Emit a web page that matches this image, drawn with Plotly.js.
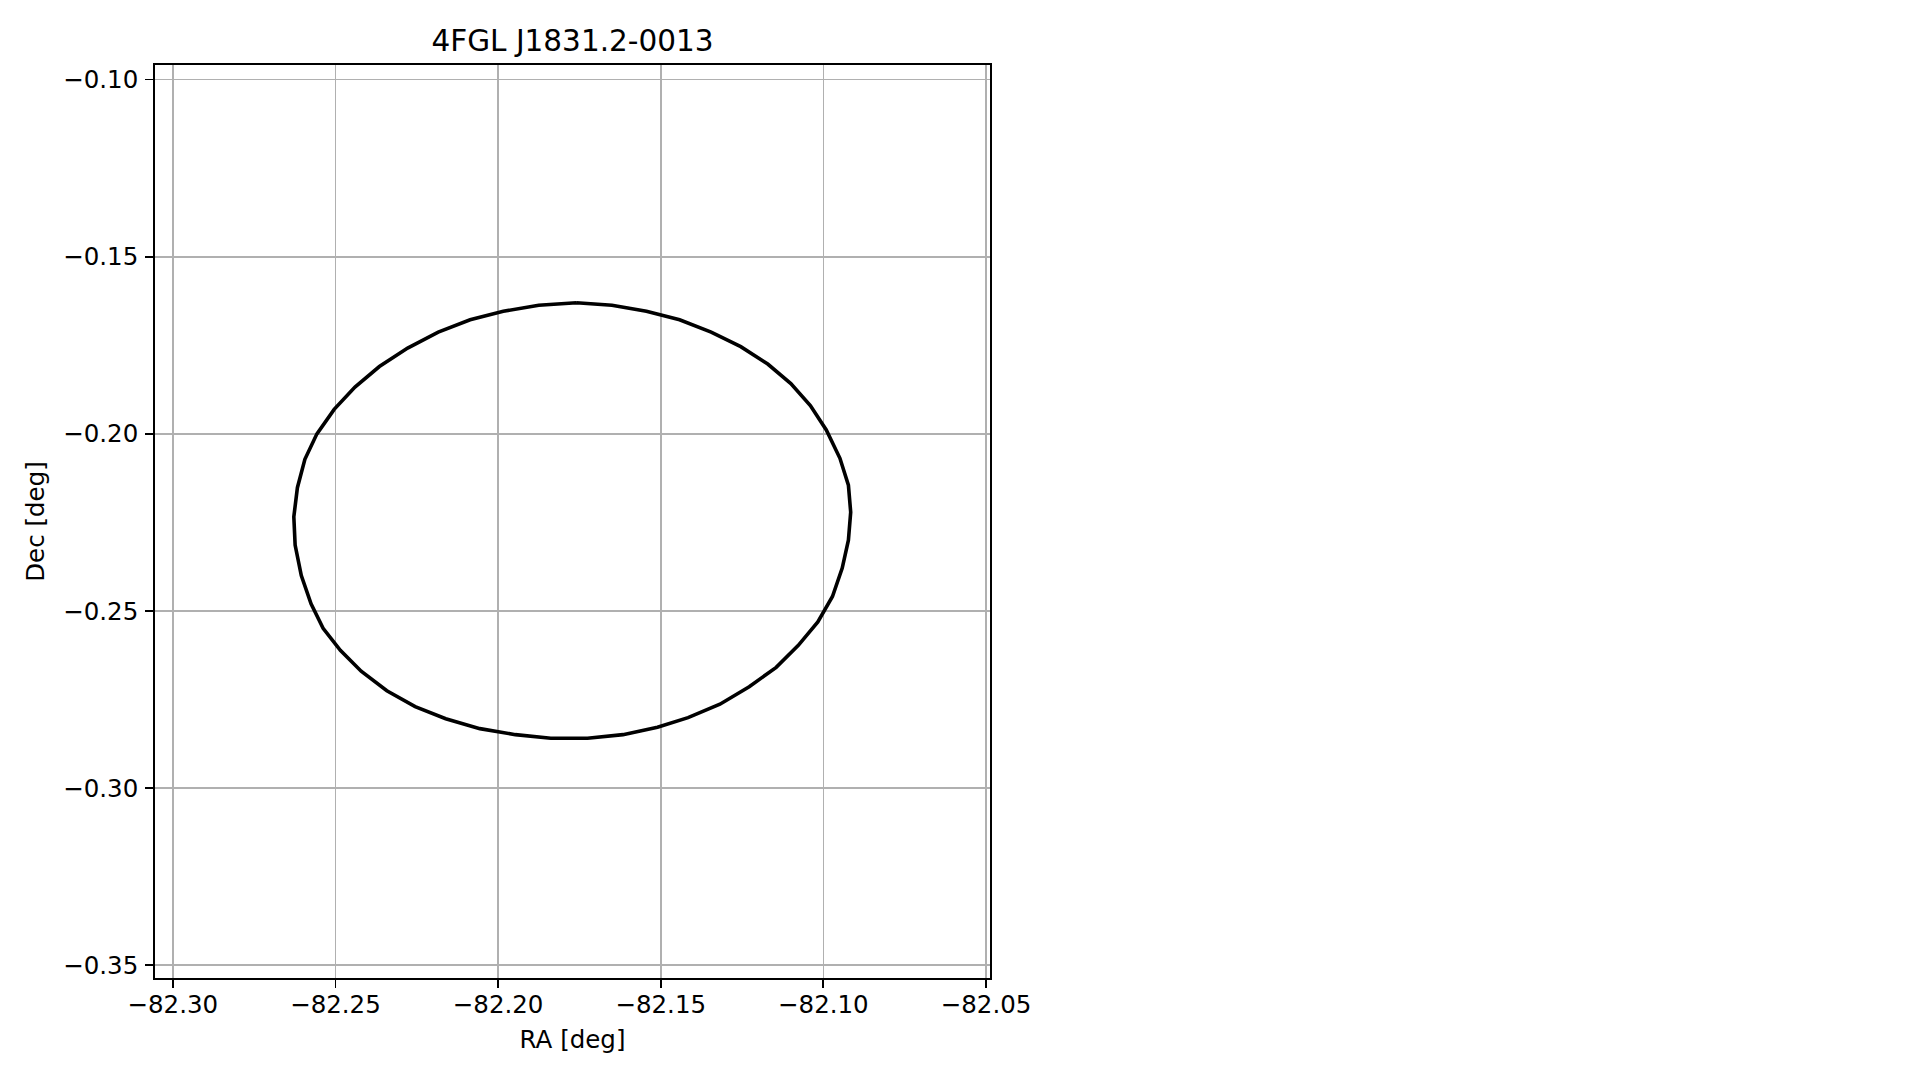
<!DOCTYPE html>
<html>
<head>
<meta charset="utf-8">
<script src="https://cdn.plot.ly/plotly-3.0.1.min.js"></script>
<style>
  html, body { margin: 0; padding: 0; background: #ffffff; }
  #chart { width: 1919px; height: 1080px; }
</style>
</head>
<body>
<div id="chart"></div>
<script>
// Ellipse contour vertices (RA, Dec in degrees)
var ra = [
  -82.1759, -82.1650, -82.1544, -82.1442, -82.1345, -82.1254, -82.1171, -82.1100,
  -82.1040, -82.0991, -82.0949, -82.0923, -82.0916, -82.0923, -82.0942, -82.0972,
  -82.1017, -82.1077, -82.1145, -82.1228, -82.1318, -82.1416, -82.1510, -82.1616,
  -82.1725, -82.1838, -82.1947, -82.2056, -82.2161, -82.2255, -82.2342, -82.2421,
  -82.2485, -82.2538, -82.2575, -82.2605, -82.2624, -82.2628, -82.2617, -82.2594,
  -82.2557, -82.2504, -82.2440, -82.2365, -82.2278, -82.2184, -82.2086, -82.1984,
  -82.1875, -82.1759
];
var dec = [
  -0.1630, -0.1637, -0.1654, -0.1678, -0.1713, -0.1754, -0.1803, -0.1858,
  -0.1920, -0.1989, -0.2069, -0.2145, -0.2221, -0.2300, -0.2379, -0.2459,
  -0.2531, -0.2597, -0.2659, -0.2714, -0.2763, -0.2801, -0.2828, -0.2849,
  -0.2859, -0.2859, -0.2849, -0.2832, -0.2804, -0.2770, -0.2725, -0.2670,
  -0.2611, -0.2549, -0.2480, -0.2400, -0.2314, -0.2234, -0.2152, -0.2072,
  -0.2000, -0.1931, -0.1868, -0.1810, -0.1758, -0.1713, -0.1678, -0.1654,
  -0.1637, -0.1630
];

// Tick values and labels
var xTickVals = [-82.30, -82.25, -82.20, -82.15, -82.10, -82.05];
var xTickText = ["\u221282.30", "\u221282.25", "\u221282.20", "\u221282.15", "\u221282.10", "\u221282.05"];
var yTickVals = [-0.10, -0.15, -0.20, -0.25, -0.30, -0.35];
var yTickText = ["\u22120.10", "\u22120.15", "\u22120.20", "\u22120.25", "\u22120.30", "\u22120.35"];

var titleText = "4FGL J1831.2-0013";
var xLabel = "RA [deg]";
var yLabel = "Dec [deg]";

var FONT = "DejaVu Sans, sans-serif";

var trace = {
  x: ra,
  y: dec,
  type: "scatter",
  mode: "lines",
  line: { color: "#000000", width: 3.6 },
  hoverinfo: "skip",
  showlegend: false
};

var axisCommon = {
  showline: true,
  linecolor: "#000000",
  linewidth: 1.8,
  mirror: true,
  ticks: "outside",
  ticklen: 8,
  tickwidth: 1.8,
  tickcolor: "#000000",
  showgrid: true,
  gridcolor: "#b0b0b0",
  gridwidth: 1.7,
  zeroline: false,
  tickfont: { family: FONT, size: 24.5, color: "#000000" },
  automargin: false
};

var layout = {
  width: 1919,
  height: 1080,
  paper_bgcolor: "#ffffff",
  plot_bgcolor: "#ffffff",
  margin: { l: 155, r: 929, t: 65, b: 102, pad: 0 },
  font: { family: FONT, color: "#000000" },
  title: {
    text: titleText,
    font: { family: FONT, size: 29.5, color: "#000000" },
    xref: "paper",
    x: 0.5,
    xanchor: "center",
    yref: "container",
    y: 1 - 40.5 / 1080,
    yanchor: "middle"
  },
  xaxis: Object.assign({}, axisCommon, {
    range: [-82.30548, -82.04877],
    tickmode: "array",
    tickvals: xTickVals,
    ticktext: xTickText,
    ticklabelstandoff: -4,
    title: { text: xLabel, font: { family: FONT, size: 24.5, color: "#000000" }, standoff: 13 }
  }),
  yaxis: Object.assign({}, axisCommon, {
    range: [-0.35358, -0.0959],
    tickmode: "array",
    tickvals: yTickVals,
    ticktext: yTickText,
    ticklabelstandoff: 2,
    title: { text: yLabel, font: { family: FONT, size: 24.5, color: "#000000" }, standoff: 12 }
  }),
  hovermode: false,
  showlegend: false
};

Plotly.newPlot("chart", [trace], layout, { displayModeBar: false, staticPlot: true });
</script>
</body>
</html>
